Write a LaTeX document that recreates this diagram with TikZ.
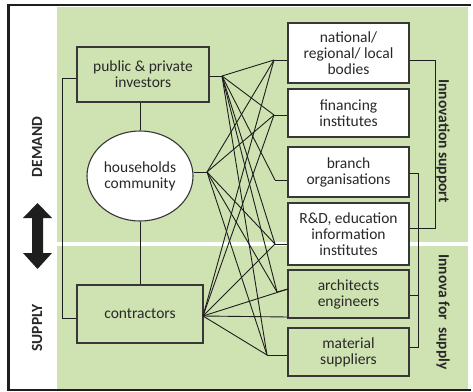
\documentclass[tikz,border=0pt]{standalone}
\usepackage{fontspec}
\setmainfont{Carlito}
\usetikzlibrary{shapes.geometric}
\definecolor{bggreen}{RGB}{207,227,178}
\definecolor{boxc}{RGB}{55,55,55}
\definecolor{linec}{RGB}{30,30,30}
\definecolor{txt}{RGB}{40,40,40}
\begin{document}
\begin{tikzpicture}[x=1pt,y=-1pt,
  box/.style={draw=boxc, line width=1.1pt, align=center, inner sep=0pt,
    font=\fontsize{15.5}{16}\selectfont, text=txt},
  gbox/.style={box, fill=bggreen},
  wbox/.style={box, fill=white},
  conn/.style={draw=linec, line width=0.9pt},
  side/.style={font=\bfseries\fontsize{15.5}{16}\selectfont, text=txt, inner sep=0pt}]
\useasboundingbox (0,0) rectangle (473,391);
% background
\fill[bggreen] (57,7) rectangle (468,389);
\fill[white] (57,241.5) rectangle (468,245.5);
\draw[line width=2.5pt, draw=linec] (471,5) -- (8.5,5) -- (8.5,390) -- (471,390);
% double arrow
\fill[linec] (37.5,203) -- (52,218) -- (43,218) -- (43,253) -- (52,253) -- (37.5,269)
  -- (23,253) -- (32,253) -- (32,218) -- (23,218) -- cycle;
\node[side, rotate=90] (dem) at (37,147) {DEMAND};
\node[side, rotate=90] (sup) at (37,328) {SUPPLY};
% left nodes
\node[gbox, minimum width=132pt, minimum height=55pt] (inv) at (143,74.5) {public \& private\\investors};
\node[box, ellipse, fill=white, minimum width=106pt, minimum height=90pt] (hh) at (140,176) {households\\community};
\node[gbox, minimum width=126pt, minimum height=58pt] (con) at (140,314) {contractors};
% right nodes
\node[wbox, minimum width=121pt, minimum height=60pt] (nat) at (348.5,53) {national/\\regional/ local\\bodies};
\node[wbox, minimum width=121pt, minimum height=48pt] (fin) at (348.5,113) {financing\\institutes};
\node[wbox, minimum width=121pt, minimum height=50pt] (br) at (348.5,172) {branch\\organisations};
\node[wbox, minimum width=121pt, minimum height=62pt] (rd) at (348.5,234) {R\&D, education\\information\\institutes};
\node[gbox, minimum width=121pt, minimum height=48pt] (arc) at (348.5,294) {architects\\engineers};
\node[gbox, minimum width=121pt, minimum height=48pt] (mat) at (348.5,352) {material\\suppliers};
\node[side, rotate=-90] (inno) at (443,141) {Innovation support};
\node[side, rotate=-90] (innos) at (443,312) {Innova for~ supply};
% vertical links
\draw[conn] (hh.north |- inv.south) -- (hh.north);
\draw[conn] (hh.south) -- (hh.south |- con.north);
\coordinate (LB1) at (62,78);
\coordinate (LB2) at (62,318);
\draw[conn] (LB1 -| inv.west) -- (LB1) -- (LB2) -- (LB2 -| con.west);
% right brackets
\coordinate (RA1) at (435,60);
\coordinate (RA2) at (435,228);
\draw[conn] (RA1 -| nat.east) -- (RA1) -- (RA2) -- (RA2 -| rd.east);
\coordinate (RB1) at (418,173);
\coordinate (RB2) at (418,347);
\coordinate (RBm) at (418,295);
\draw[conn] (RB1 -| br.east) -- (RB1) -- (RB2) -- (RB2 -| mat.east);
\draw[conn] (RBm -| arc.east) -- (RBm);
% junctions left
\coordinate (JI) at (222,76);
\coordinate (JH) at (207,172);
\coordinate (JC) at (203,316);
\draw[conn] (JI -| inv.east) -- (JI);
\draw[conn] (JH -| hh.east) -- (JH);
% junctions right
\coordinate (Nn) at (274,60);
\coordinate (Nf) at (274,115);
\coordinate (Nb) at (275,180);
\coordinate (Nr) at (275,244);
\coordinate (Na) at (277,292);
\coordinate (Na2) at (288,289);
\coordinate (Nm) at (267,355);
\coordinate (Ah) at (288,317);
\draw[conn] (Nn) -- (Nn -| nat.west);
\draw[conn] (Nf) -- (Nf -| fin.west);
\draw[conn] (Nb) -- (Nb -| br.west);
\draw[conn] (Nr) -- (Nr -| rd.west);
\draw[conn] (Na) -- (Na2);
\draw[conn] (Nm) -- (Nm -| mat.west);
% fan lines
\foreach \t in {Nn,Nf,Nb,Nr,Na,Nm} \draw[conn] (JI) -- (\t);
\foreach \t in {Nn,Nf,Nr,Na,Nm} \draw[conn] (JH) -- (\t);
\foreach \t in {Nn,Nf,Nr,Na2,Ah,Nm} \draw[conn] (JC) -- (\t);
\end{tikzpicture}
\end{document}
